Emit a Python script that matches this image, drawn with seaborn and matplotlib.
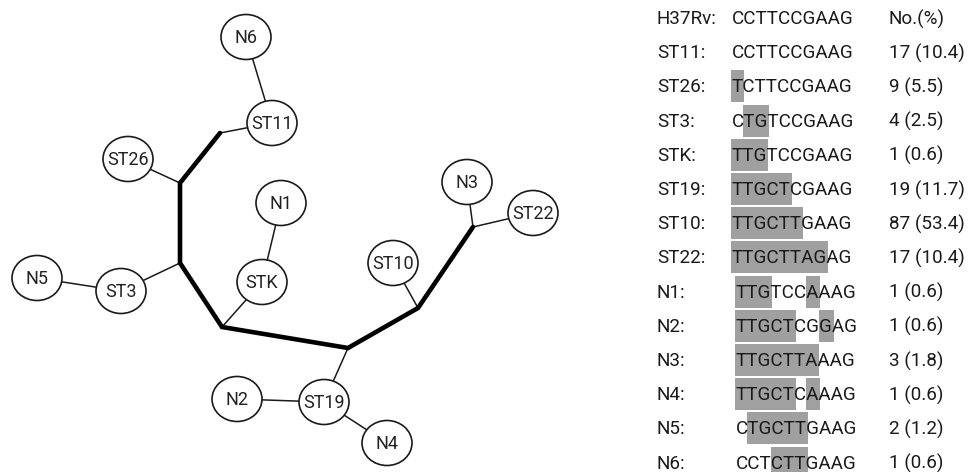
import matplotlib
matplotlib.use("Agg")
import matplotlib.pyplot as plt
from matplotlib.patches import Ellipse, Rectangle
import seaborn as sns

# network nodes (ellipses)
node_names = ["N6", "ST11", "ST26", "N1", "N3", "ST22", "N5", "ST3",
              "STK", "ST10", "N2", "ST19", "N4"]
node_x = [246, 272, 128, 281, 467, 533, 37, 121, 262, 393, 237, 324, 387]
node_y = [37, 123, 159, 203, 182, 213, 278, 291, 282, 263, 399, 402, 443]

# branch points on the thick backbone
junction_names = ["J0", "J1", "J2", "J3", "J4", "J5", "J6"]
junction_x = [220, 180, 180, 222, 348, 418, 473]
junction_y = [133, 183, 263, 327, 348, 308, 227]

backbone = ["J0", "J1", "J2", "J3", "J4", "J5", "J6"]
thin_edges = [("N6", "ST11"), ("ST11", "J0"), ("ST26", "J1"), ("ST3", "J2"),
              ("N5", "ST3"), ("N1", "STK"), ("STK", "J3"), ("ST19", "J4"),
              ("N2", "ST19"), ("ST19", "N4"), ("ST10", "J5"), ("N3", "J6"),
              ("ST22", "J6")]

# table on the right
row_labels = ["H37Rv:", "ST11:", "ST26:", "ST3:", "STK:", "ST19:", "ST10:",
              "ST22:", "N1:", "N2:", "N3:", "N4:", "N5:", "N6:"]
row_seqs = ["CCTTCCGAAG", "CCTTCCGAAG", "TCTTCCGAAG", "CTGTCCGAAG",
            "TTGTCCGAAG", "TTGCTCGAAG", "TTGCTTGAAG", "TTGCTTAGAG",
            "TTGTCCAAAG", "TTGCTCGGAG", "TTGCTTAAAG", "TTGCTCAAAG",
            "CTGCTTGAAG", "CCTCTTGAAG"]
row_counts = ["No.(%)", "17 (10.4)", "9 (5.5)", "4 (2.5)", "1 (0.6)",
              "19 (11.7)", "87 (53.4)", "17 (10.4)", "1 (0.6)", "1 (0.6)",
              "3 (1.8)", "1 (0.6)", "2 (1.2)", "1 (0.6)"]
# changed positions vs H37Rv, as [start, end) character spans
row_marks = [[], [], [(0, 1)], [(1, 3)], [(0, 3)], [(0, 5)], [(0, 6)],
             [(0, 8)], [(0, 3), (6, 7)], [(0, 5), (7, 8)], [(0, 7)],
             [(0, 5), (6, 7)], [(1, 6)], [(3, 6)]]

sns.set_theme(style="white")
plt.rcParams["font.family"] = ["Roboto", "DejaVu Sans"]

fig = plt.figure(figsize=(9.73, 4.72), dpi=100)
ax = fig.add_axes([0, 0, 1, 1])
ax.set_xlim(0, 973)
ax.set_ylim(472, 0)
ax.axis("off")

pos = {n: (x, y) for n, x, y in zip(node_names, node_x, node_y)}
pos.update({n: (x, y) for n, x, y in zip(junction_names, junction_x, junction_y)})

sns.lineplot(x=[pos[n][0] for n in backbone], y=[pos[n][1] for n in backbone],
             sort=False, estimator=None, color="black", linewidth=3.3, ax=ax,
             zorder=2)
ax.lines[-1].set_solid_joinstyle("miter")
for a, b in thin_edges:
    ax.plot([pos[a][0], pos[b][0]], [pos[a][1], pos[b][1]],
            color="#1a1a1a", lw=1.1, zorder=1)

for n, x, y in zip(node_names, node_x, node_y):
    ax.add_patch(Ellipse((x, y), 50, 45, facecolor="white", edgecolor="#1a1a1a",
                         lw=1.2, zorder=3))
    ax.text(x, y + 1, n, ha="center", va="center", fontsize=13,
            color="#222222", zorder=4)

# fit the sequence font so one sequence is ~121 px wide
renderer = fig.canvas.get_renderer()


def text_width(s, fs):
    if not s:
        return 0.0
    t = ax.text(0, 0, s, fontsize=fs)
    w = t.get_window_extent(renderer).width
    t.remove()
    return w


seq_fs = 10 * 121 / text_width("CCTTCCGAAG", 10)

for i, (lab, seq, cnt, marks) in enumerate(zip(row_labels, row_seqs, row_counts, row_marks)):
    y = 19 + 34.2 * i
    sx = 732 if i < 8 else 736
    ax.text(657, y, lab, ha="left", va="center", fontsize=seq_fs, color="#1a1a1a")
    ax.text(sx, y, seq, ha="left", va="center", fontsize=seq_fs, color="#1a1a1a", zorder=3)
    ax.text(889, y, cnt, ha="left", va="center", fontsize=seq_fs, color="#1a1a1a")
    for a, b in marks:
        x0 = sx + text_width(seq[:a], seq_fs)
        x1 = sx + text_width(seq[:b], seq_fs)
        ax.add_patch(Rectangle((x0 - 1, y - 17), x1 - x0 + 2, 32,
                               facecolor="#a0a0a0", edgecolor="none", zorder=2))

fig.savefig("out.png", dpi=100)
